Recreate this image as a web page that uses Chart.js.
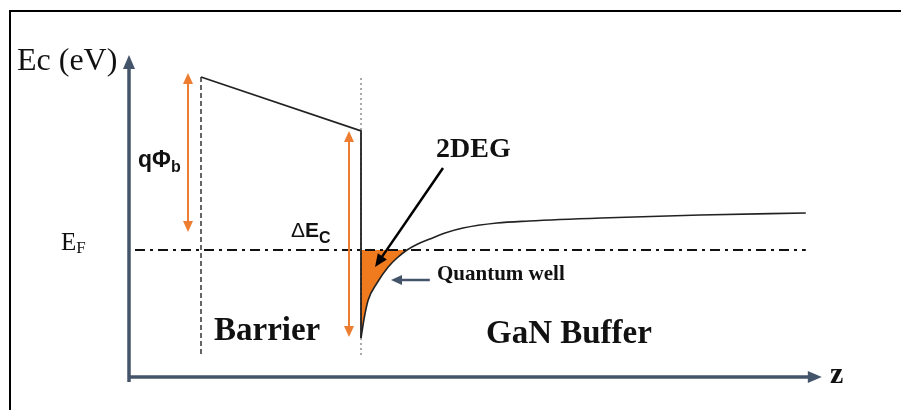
<!DOCTYPE html>
<html><head><meta charset="utf-8">
<script src="https://cdn.jsdelivr.net/npm/chart.js@4.4.1/dist/chart.umd.min.js"></script>
<style>html,body{margin:0;padding:0;background:#fff;overflow:hidden}#wrap{width:901px;height:410px}</style>
</head><body><div id="wrap"><canvas id="c" width="901" height="410"></canvas></div>
<script>
// z: depth (arbitrary nm), Ec: conduction band energy (eV, relative to EF)
const barrierZ  = [0, 20, 20];
const barrierEc = [1.73, 1.19, -0.88];
const bufferZ  = [20, 20.4, 20.9, 22, 23.4, 24.5, 25.75, 27.1, 28.6, 30.5, 32.75, 37, 41, 50, 62.4, 75.6];
const bufferEc = [-0.88, -0.68, -0.50, -0.33, -0.17, -0.08, 0, 0.06, 0.11, 0.17, 0.22, 0.27, 0.29, 0.32, 0.35, 0.37];
const fermiZ = [-8.25, 75.6];
const fermiE = 0;
const surfaceZ = 0;
const interfaceZ = 20;
const guideE = [1.73, -1.07];
const axisZ = [-9, 77.6];
const axisE = [-1.32, 1.95];
const axisXE = -1.27;
const phiArrowZ = -1.625, phiArrowE = [0.18, 1.77];
const dEcArrowZ = 18.5, dEcArrowE = [1.19, -0.87];
const degArrow = [[30.25, 0.82], [21.75, -0.17]];
const qwArrow = [[28.6, -0.30], [23.75, -0.30]];

const pts = (zs, es) => zs.map((z, i) => ({x: z, y: es[i]}));
const wellPts = pts(bufferZ, bufferEc).filter(p => p.y <= fermiE);

function arrowHead(ctx, x1, y1, x2, y2, len, w) {
  const a = Math.atan2(y2 - y1, x2 - x1);
  ctx.beginPath();
  ctx.moveTo(x2, y2);
  ctx.lineTo(x2 - len * Math.cos(a) + (w / 2) * Math.sin(a), y2 - len * Math.sin(a) - (w / 2) * Math.cos(a));
  ctx.lineTo(x2 - len * Math.cos(a) - (w / 2) * Math.sin(a), y2 - len * Math.sin(a) + (w / 2) * Math.cos(a));
  ctx.closePath();
  ctx.fill();
}
function arrow(ctx, x1, y1, x2, y2, color, lw, len, w, both) {
  ctx.save();
  ctx.strokeStyle = color; ctx.fillStyle = color; ctx.lineWidth = lw;
  const a = Math.atan2(y2 - y1, x2 - x1);
  const sx = both ? x1 + (len - 1) * Math.cos(a) : x1, sy = both ? y1 + (len - 1) * Math.sin(a) : y1;
  ctx.beginPath();
  ctx.moveTo(sx, sy);
  ctx.lineTo(x2 - (len - 1) * Math.cos(a), y2 - (len - 1) * Math.sin(a));
  ctx.stroke();
  arrowHead(ctx, x1, y1, x2, y2, len, w);
  if (both) arrowHead(ctx, x2, y2, x1, y1, len, w);
  ctx.restore();
}
function runs(ctx, parts, x, y) {
  for (const p of parts) {
    ctx.font = p.font;
    ctx.fillText(p.t, x, y + (p.dy || 0));
    x += ctx.measureText(p.t).width + (p.gap || 0);
  }
}

const deco = {
  id: 'deco',
  beforeDraw(chart) {
    const ctx = chart.ctx;
    ctx.save(); ctx.fillStyle = '#fff'; ctx.fillRect(0, 0, chart.width, chart.height); ctx.restore();
  },
  afterDatasetsDraw(chart) {
    const {ctx, scales: {x, y}} = chart;
    const X = v => x.getPixelForValue(v), Y = v => y.getPixelForValue(v);
    ctx.save();
    // frame
    ctx.strokeStyle = '#000'; ctx.lineWidth = 2;
    ctx.beginPath(); ctx.moveTo(10, 415); ctx.lineTo(10, 11); ctx.lineTo(905, 11); ctx.stroke();
    // axes
    const slate = '#44546a';
    arrow(ctx, X(axisZ[0]), Y(axisE[0]), X(axisZ[0]), Y(axisE[1]), slate, 3.5, 14, 12, false);
    arrow(ctx, X(axisZ[0]) - 1, Y(axisXE), X(axisZ[1]), Y(axisXE), slate, 3.5, 14, 12, false);
    // orange arrows
    const orange = '#ed7d31';
    arrow(ctx, X(phiArrowZ), Y(phiArrowE[0]), X(phiArrowZ), Y(phiArrowE[1]), orange, 2, 11, 10, true);
    arrow(ctx, X(dEcArrowZ), Y(dEcArrowE[0]), X(dEcArrowZ), Y(dEcArrowE[1]), orange, 2, 11, 10, true);
    // 2DEG arrow
    arrow(ctx, X(degArrow[0][0]), Y(degArrow[0][1]), X(degArrow[1][0]), Y(degArrow[1][1]), '#000', 2.5, 13, 11, false);
    // quantum well arrow
    arrow(ctx, X(qwArrow[0][0]), Y(qwArrow[0][1]), X(qwArrow[1][0]), Y(qwArrow[1][1]), slate, 2.5, 11, 10, false);
    // texts
    ctx.fillStyle = '#111';
    ctx.textBaseline = 'alphabetic';
    ctx.font = '32px "Liberation Serif"';
    ctx.fillText('Ec (eV)', 17, 70);
    runs(ctx, [{t: 'E', font: '25px "Liberation Serif"'}, {t: 'F', font: '17px "Liberation Serif"', dy: 3}], 61, 250);
    runs(ctx, [{t: 'q', font: 'bold 23px "Liberation Sans"'}, {t: 'Φ', font: 'bold 23px "Liberation Sans"'}, {t: 'b', font: 'bold 16px "Liberation Sans"', dy: 5}], 138, 167);
    runs(ctx, [{t: 'Δ', font: '21px "Liberation Sans"'}, {t: 'E', font: 'bold 21px "Liberation Sans"'}, {t: 'C', font: 'bold 16px "Liberation Sans"', dy: 6}], 291, 237);
    ctx.font = 'bold 28px "Liberation Serif"';
    ctx.fillText('2DEG', 436, 157);
    ctx.font = 'bold 21px "Liberation Serif"';
    ctx.fillText('Quantum well', 437, 280);
    ctx.font = 'bold 33px "Liberation Serif"';
    ctx.fillText('Barrier', 214, 340);
    ctx.fillText('GaN Buffer', 486, 343);
    ctx.font = 'bold 30px "Liberation Serif"';
    ctx.fillText('z', 830, 383);
    ctx.restore();
  }
};

new Chart(document.getElementById('c'), {
  type: 'scatter',
  data: {
    datasets: [
      {data: pts(barrierZ, barrierEc), showLine: true, borderColor: '#222', borderWidth: 1.8, pointRadius: 0, tension: 0, order: 0},
      {data: pts(bufferZ, bufferEc), showLine: true, borderColor: '#222', borderWidth: 1.6, pointRadius: 0, cubicInterpolationMode: 'monotone', order: 1},
      {data: pts(fermiZ, [fermiE, fermiE]), showLine: true, borderColor: '#111', borderWidth: 2.2, borderDash: [10, 5, 3, 5], pointRadius: 0, order: 2},
      {data: pts([surfaceZ, surfaceZ], guideE), showLine: true, borderColor: '#333', borderWidth: 1.5, borderDash: [5, 3], pointRadius: 0, order: 3},
      {data: pts([interfaceZ, interfaceZ], [guideE[0] - 0.01, guideE[1]]), showLine: true, borderColor: '#555', borderWidth: 1, borderDash: [2, 3], pointRadius: 0, order: 4},
      {data: wellPts, showLine: true, borderWidth: 0, borderColor: 'rgba(0,0,0,0)', backgroundColor: '#f07a1e', fill: {value: fermiE}, pointRadius: 0, cubicInterpolationMode: 'monotone', order: 5}
    ]
  },
  options: {
    responsive: false, animation: false, devicePixelRatio: 1,
    layout: {padding: 0},
    plugins: {legend: {display: false}, tooltip: {enabled: false}},
    scales: {
      x: {type: 'linear', min: -25.125, max: 87.5, display: false},
      y: {type: 'linear', min: -1.6, max: 2.5, display: false}
    }
  },
  plugins: [deco]
});
</script>
</body></html>
